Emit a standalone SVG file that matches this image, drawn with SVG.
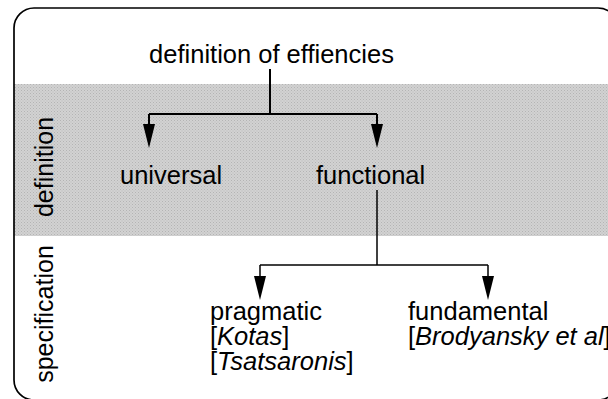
<svg xmlns="http://www.w3.org/2000/svg" width="608" height="399" viewBox="0 0 608 399">
<defs>
<pattern id="dots" width="3" height="3" patternUnits="userSpaceOnUse">
<rect width="3" height="3" fill="#d2d2d2"/>
<rect width="1" height="1" fill="#b4b4b4"/>
<rect x="1.5" y="1.5" width="1" height="1" fill="#bcbcbc"/>
</pattern>
<style>
text{font-family:"Liberation Sans",Arial,sans-serif;font-size:25.5px;fill:#000}
.vl{font-size:25px}
.ln{fill:none;stroke:#000;stroke-width:2}
.ln2{fill:none;stroke:#000;stroke-width:1.5}
.ah{fill:#000}
</style>
</defs>
<rect x="0" y="0" width="608" height="399" fill="#fff"/>
<rect x="14" y="84" width="594" height="152" fill="url(#dots)"/>
<rect x="14" y="8" width="604" height="392" rx="20" ry="20" fill="none" stroke="#000" stroke-width="1.7"/>
<g id="band-labels">
<text class="vl" transform="translate(53,167) rotate(-90)" text-anchor="middle">definition</text>
<text class="vl" transform="translate(53,314) rotate(-90)" text-anchor="middle">specification</text>
</g>
<g id="connectors">
<path class="ln" d="M270,69 V114"/>
<path class="ln" d="M149,114 H377"/>
<path class="ln" d="M149,114 V126"/>
<path class="ln" d="M377,114 V126"/>
<path class="ah" d="M143,124 L155,124 L149,148 Z"/>
<path class="ah" d="M371,124 L383,124 L377,148 Z"/>
<path class="ln2" d="M377,190 V265"/>
<path class="ln2" d="M260,265 H488"/>
<path class="ln2" d="M260,265 V278"/>
<path class="ln2" d="M488,265 V278"/>
<path class="ah" d="M254,276 L266,276 L260,300 Z"/>
<path class="ah" d="M482,276 L494,276 L488,300 Z"/>
</g>
<g id="root"><text x="271.5" y="63" text-anchor="middle">definition of effiencies</text></g>
<g id="universal"><text x="120" y="184">universal</text></g>
<g id="functional"><text x="316" y="184">functional</text></g>
<g id="pragmatic">
<text x="210" y="320">pragmatic</text>
<text x="210" y="345">[<tspan font-style="italic">Kotas</tspan>]</text>
<text x="210" y="370">[<tspan font-style="italic">Tsatsaronis</tspan>]</text>
</g>
<g id="fundamental">
<text x="408" y="320">fundamental</text>
<text x="408" y="345">[<tspan font-style="italic">Brodyansky et al</tspan>]</text>
</g>
</svg>
